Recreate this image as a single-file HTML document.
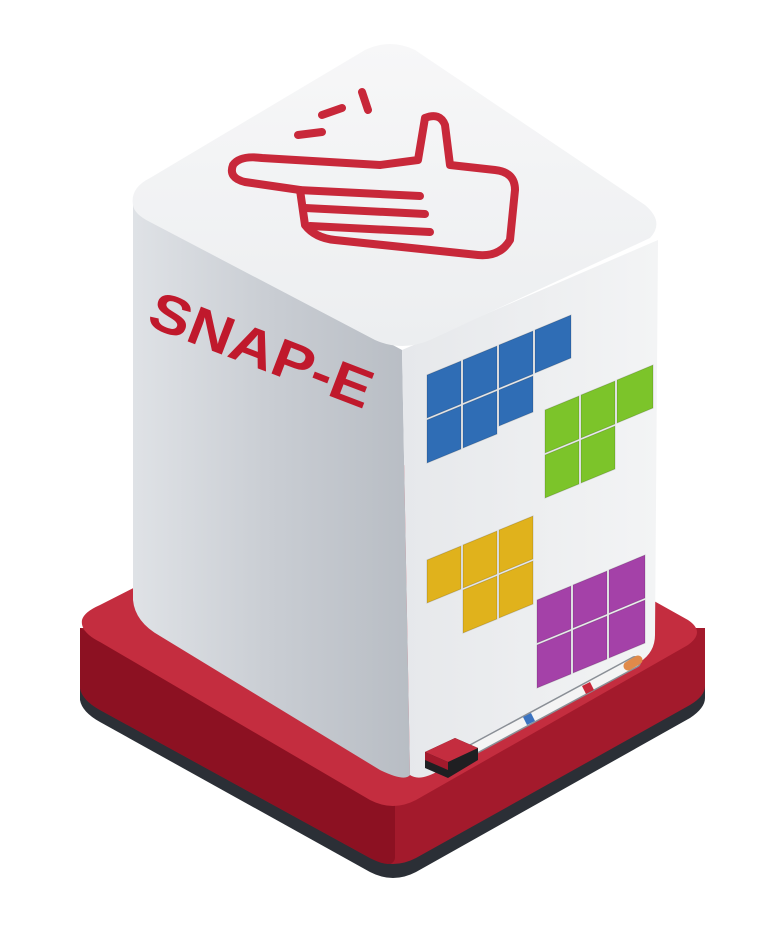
<!DOCTYPE html>
<html><head><meta charset="utf-8"><style>html,body{margin:0;padding:0;background:#fff;}svg{display:block}</style></head>
<body>
<svg width="758" height="928" viewBox="0 0 758 928" xmlns="http://www.w3.org/2000/svg">
<defs>
<linearGradient id="lf" x1="0" y1="0" x2="1" y2="0"><stop offset="0" stop-color="#dfe2e6"/><stop offset="0.5" stop-color="#c9cdd3"/><stop offset="1" stop-color="#b8bdc4"/></linearGradient>
<linearGradient id="rf" x1="0" y1="0" x2="1" y2="0"><stop offset="0" stop-color="#e6e8eb"/><stop offset="1" stop-color="#f3f4f5"/></linearGradient>
<linearGradient id="tf" x1="0" y1="0" x2="0" y2="1"><stop offset="0" stop-color="#f7f7f8"/><stop offset="1" stop-color="#eceef0"/></linearGradient>
</defs>
<!-- base -->
<path d="M80,640 L80,700 Q82,712 100,722 L370,872 Q393,884 416,872 L690,718 Q705,708 705,698 L705,640 Z" fill="#2b2f36"/>
<path d="M80,628 L80,688 Q82,700 100,710 L370,858 Q393,870 416,858 L690,705 Q705,696 705,686 L705,628 Z" fill="#a31a2c"/>
<path d="M80,628 L80,688 Q82,700 100,710 L370,858 Q393,870 395,858 L395,805 Z" fill="#8c1122"/>
<path d="M82,620 Q80,632 100,642 L370,800 Q393,812 416,800 L688,645 Q706,632 688,620 L420,470 Q393,458 366,470 L100,605 Q84,612 82,620 Z" fill="#c42d3f"/>
<!-- box faces -->
<path d="M133,205 L133,600 Q135,622 160,636 L380,770 Q405,782 410,775 L402,350 Z" fill="url(#lf)"/>
<path d="M402,350 L410,775 Q420,782 440,770 L640,662 Q655,652 655,635 L658,240 Z" fill="url(#rf)"/>
<path d="M133,205 Q130,188 150,178 L365,50 Q390,38 415,50 L645,205 Q665,222 650,238 L430,340 Q402,352 375,340 L150,222 Q134,214 133,205 Z" fill="url(#tf)"/>
<!-- hand icon -->
<g fill="none" stroke="#c8283a" stroke-width="8" stroke-linejoin="round" stroke-linecap="round">
<path d="M233,165 Q228,178 245,182 L300,190 L305,225 Q315,238 335,240 L478,255 Q500,257 510,240 L515,190 Q515,172 495,170 L450,165 L445,125 Q440,112 425,118 L418,160 L380,165 L262,158 Q240,155 233,165 Z"/>
<path d="M298,190 L420,196 M305,208 L425,214 M310,226 L430,232"/>
<path d="M298,135 L322,132 M322,115 L342,108 M362,92 L368,110"/>
</g>
<!-- SNAP-E -->
<text x="145" y="325" transform="rotate(21 145 325)" font-family="Liberation Sans, sans-serif" font-weight="bold" font-size="54" fill="#c0192c" textLength="235" lengthAdjust="spacingAndGlyphs">SNAP-E</text>
<!-- sticky notes -->
<g stroke="rgba(0,0,0,0.15)" stroke-width="1">
<g fill="#2f6db5">
<path d="M427,375 l34,-14 l0,43 l-34,14z"/><path d="M463,360 l34,-14 l0,43 l-34,14z"/><path d="M499,345 l34,-14 l0,43 l-34,14z"/><path d="M535,330 l36,-15 l0,43 l-36,15z"/>
<path d="M427,420 l34,-14 l0,43 l-34,14z"/><path d="M463,405 l34,-14 l0,43 l-34,14z"/><path d="M499,390 l34,-14 l0,36 l-34,14z"/>
</g>
<g fill="#7cc42a">
<path d="M545,410 l34,-14 l0,43 l-34,14z"/><path d="M581,395 l34,-14 l0,43 l-34,14z"/><path d="M617,380 l36,-15 l0,43 l-36,15z"/>
<path d="M545,455 l34,-14 l0,43 l-34,14z"/><path d="M581,440 l34,-14 l0,43 l-34,14z"/>
</g>
<g fill="#e0b21c">
<path d="M427,560 l34,-14 l0,43 l-34,14z"/><path d="M463,545 l34,-14 l0,43 l-34,14z"/><path d="M499,530 l34,-14 l0,43 l-34,14z"/>
<path d="M463,590 l34,-14 l0,43 l-34,14z"/><path d="M499,575 l34,-14 l0,43 l-34,14z"/>
</g>
<g fill="#a441a8">
<path d="M537,600 l34,-14 l0,43 l-34,14z"/><path d="M573,585 l34,-14 l0,43 l-34,14z"/><path d="M609,570 l36,-15 l0,43 l-36,15z"/>
<path d="M537,645 l34,-14 l0,43 l-34,14z"/><path d="M573,630 l34,-14 l0,43 l-34,14z"/><path d="M609,615 l36,-15 l0,43 l-36,15z"/>
</g>
</g>
<!-- marker -->
<path d="M468,752 L635,662" stroke="#8a8f96" stroke-width="12" stroke-linecap="round"/>
<path d="M468,752 L635,662" stroke="#f4f4f4" stroke-width="9" stroke-linecap="round"/>
<path d="M525,721 L533,717" stroke="#3b73c0" stroke-width="9"/>
<path d="M584,690 L592,686" stroke="#c8283a" stroke-width="9"/>
<path d="M628,666 L638,660" stroke="#e08a4a" stroke-width="9" stroke-linecap="round"/>
<!-- eraser -->
<path d="M425,752 L455,738 L478,748 L478,760 L448,778 L425,768 Z" fill="#1f1f22"/>
<path d="M425,752 L455,738 L478,748 L448,762 Z" fill="#c42d3f"/>
<path d="M425,752 L448,762 L448,770 L425,760 Z" fill="#a31a2c"/>
</svg>
</body></html>
